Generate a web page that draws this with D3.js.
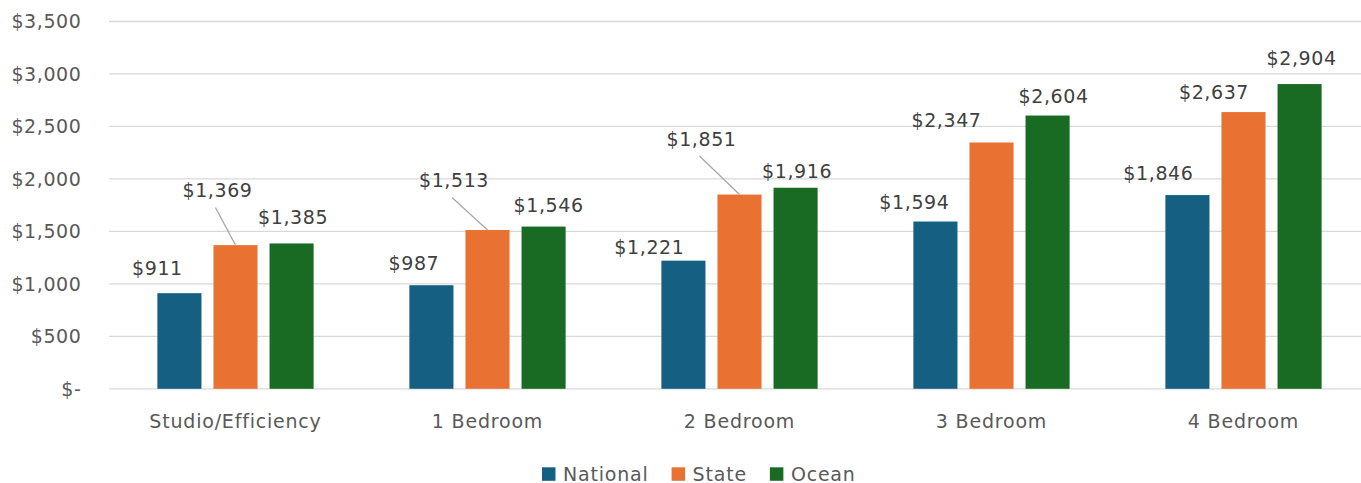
<!DOCTYPE html>
<html>
<head>
<meta charset="utf-8">
<script src="https://cdn.jsdelivr.net/npm/d3@7"></script>
<style>
  body { margin: 0; background: #fff; }
  svg text { font-family: "DejaVu Sans", sans-serif; }
</style>
</head>
<body>
<svg id="chart" width="1361" height="483"></svg>
<script>
var categories = ["Studio/Efficiency", "1 Bedroom", "2 Bedroom", "3 Bedroom", "4 Bedroom"];
var seriesNames = ["National", "State", "Ocean"];
var national = [911, 987, 1221, 1594, 1846];
var state = [1369, 1513, 1851, 2347, 2637];
var ocean = [1385, 1546, 1916, 2604, 2904];
var yTicks = [0, 500, 1000, 1500, 2000, 2500, 3000, 3500];

var colors = ["#156082", "#E97132", "#196B24"];

// hand-placed data labels (offset from bar centre / bar top), like in the original sheet
var labelDx = [
  [-22, -17.5, -34, -21, -29],
  [-18, -33.5, -38, -45, -29.5],
  [1.5, 5, 1.5, 6, 2]
];
var labelDy = [
  [-18, -15, -7, -13, -15],
  [-48, -43, -49, -15, -13],
  [-19.5, -15, -10, -13, -19.5]
];
var leader = [
  [false, false, false, false, false],
  [true, true, true, false, false],
  [false, false, false, false, false]
];

var values = [national, state, ocean];

var svg = d3.select("#chart");

var x0 = d3.scaleBand()
  .domain(categories)
  .range([109.5, 1369.5])
  .paddingInner(0.38)
  .paddingOuter(0.19);

var x1 = d3.scaleBand()
  .domain(seriesNames)
  .range([0, x0.bandwidth()])
  .paddingInner(0.214);

var y = d3.scaleLinear()
  .domain([0, 3500])
  .range([388.8, 21.5]);

var fmt = function(v) { return v === 0 ? "$-" : "$" + d3.format(",")(v); };

// gridlines
svg.append("g")
  .selectAll("line")
  .data(yTicks)
  .enter().append("line")
  .attr("x1", 109)
  .attr("x2", 1361)
  .attr("y1", function(d) { return y(d); })
  .attr("y2", function(d) { return y(d); })
  .attr("stroke", "#d9d9d9")
  .attr("stroke-width", 1.3);

// y axis labels
svg.append("g")
  .selectAll("text")
  .data(yTicks)
  .enter().append("text")
  .attr("x", 81.5)
  .attr("y", function(d) { return y(d) + 6.8; })
  .attr("text-anchor", "end")
  .attr("font-size", 19)
  .attr("letter-spacing", 0.6)
  .attr("fill", "#595959")
  .text(fmt);

// category labels
svg.append("g")
  .selectAll("text")
  .data(categories)
  .enter().append("text")
  .attr("x", function(d) { return x0(d) + x0.bandwidth() / 2; })
  .attr("y", 428)
  .attr("text-anchor", "middle")
  .attr("font-size", 19)
  .attr("letter-spacing", 0.8)
  .attr("fill", "#595959")
  .text(function(d) { return d; });

// bars
var rows = [];
seriesNames.forEach(function(s, si) {
  categories.forEach(function(c, ci) {
    rows.push({ series: s, si: si, cat: c, ci: ci, value: values[si][ci] });
  });
});

var barX = function(d) { return x0(d.cat) + x1(d.series); };
var barCx = function(d) { return barX(d) + x1.bandwidth() / 2; };

svg.append("g")
  .selectAll("rect")
  .data(rows)
  .enter().append("rect")
  .attr("x", barX)
  .attr("y", function(d) { return y(d.value); })
  .attr("width", x1.bandwidth())
  .attr("height", function(d) { return y(0) - y(d.value); })
  .attr("fill", function(d) { return colors[d.si]; });

// leader lines
svg.append("g")
  .selectAll("line")
  .data(rows.filter(function(d) { return leader[d.si][d.ci]; }))
  .enter().append("line")
  .attr("x1", function(d) { return barCx(d) + labelDx[d.si][d.ci] - 2; })
  .attr("y1", function(d) { return y(d.value) + labelDy[d.si][d.ci] + 10.5; })
  .attr("x2", function(d) { return barCx(d); })
  .attr("y2", function(d) { return y(d.value); })
  .attr("stroke", "#a6a6a6")
  .attr("stroke-width", 1.2);

// data labels
svg.append("g")
  .selectAll("text")
  .data(rows)
  .enter().append("text")
  .attr("x", function(d) { return barCx(d) + labelDx[d.si][d.ci]; })
  .attr("y", function(d) { return y(d.value) + labelDy[d.si][d.ci]; })
  .attr("text-anchor", "middle")
  .attr("font-size", 19)
  .attr("letter-spacing", 0.6)
  .attr("fill", "#404040")
  .text(function(d) { return fmt(d.value); });

// legend
var legend = svg.append("g");
var lx = 542;
seriesNames.forEach(function(s, i) {
  legend.append("rect")
    .attr("x", lx)
    .attr("y", 467.3)
    .attr("width", 13.5)
    .attr("height", 13.5)
    .attr("fill", colors[i]);
  var t = legend.append("text")
    .attr("x", lx + 21)
    .attr("y", 480.5)
    .attr("font-size", 19)
    .attr("letter-spacing", 0.8)
    .attr("fill", "#595959")
    .text(s);
  lx += 21 + t.node().getComputedTextLength() + 23;
});
</script>
</body>
</html>
